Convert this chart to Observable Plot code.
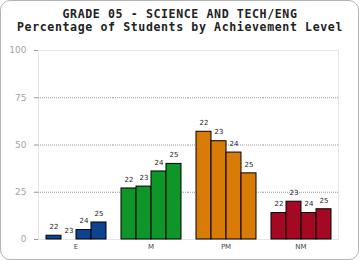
<!DOCTYPE html>
<html>
<head>
<meta charset="utf-8">
<script src="https://cdn.jsdelivr.net/npm/d3@7"></script>
<script src="https://cdn.jsdelivr.net/npm/@observablehq/plot@0.6"></script>
<style>
  html, body { margin: 0; padding: 0; background: #fff; }
  #wrap { position: relative; width: 360px; height: 260px; overflow: hidden; }
  #box { position: absolute; left: 0; top: 0; width: 359px; height: 260px; box-sizing: border-box;
         border: 1px solid #b4b4b4; border-radius: 10px; pointer-events: none; }
  .title { position: absolute; left: 0; width: 360px; height: 12px; text-align: center;
           font: bold 11.6px "DejaVu Sans Mono", monospace; letter-spacing: 0.6px; line-height: 12px; color: #222; white-space: nowrap; }
  #t1 { top: 8px; }
  #t2 { top: 21px; }
  #chart { position: absolute; left: 0; top: 0; }
</style>
</head>
<body>
<div id="wrap">
  <div id="chart"></div>
  <div class="title" id="t1">GRADE 05 - SCIENCE AND TECH/ENG</div>
  <div class="title" id="t2">Percentage of Students by Achievement Level</div>
  <div id="box"></div>
</div>
<script>
const levels = ["E", "M", "PM", "NM"];
const years = ["22", "23", "24", "25"];
const valuesE = [2, 0, 5, 9];
const valuesM = [27, 28, 36, 40];
const valuesPM = [57, 52, 46, 35];
const valuesNM = [14, 20, 14, 16];
const levelColors = ["#0c4392", "#0e9629", "#d87b07", "#a40822"];
const yTicks = [0, 25, 50, 75, 100];
const gridValues = [25, 50, 75];

const series = [valuesE, valuesM, valuesPM, valuesNM];
const rows = [];
levels.forEach((lv, i) => years.forEach((yr, j) => rows.push({level: lv, year: yr, value: series[i][j]})));

const plot = Plot.plot({
  width: 360,
  height: 260,
  marginTop: 50,
  marginBottom: 21,
  marginLeft: 37,
  marginRight: 22,
  style: {background: "transparent", fontFamily: "DejaVu Sans", color: "#222"},
  fx: {domain: levels, padding: 0, label: null},
  x: {domain: years, paddingInner: 0, paddingOuter: 0.5, axis: null},
  y: {domain: [0, 100], label: null},
  color: {domain: levels, range: levelColors},
  marks: [
    Plot.frame({stroke: "#e6e6e6", facet: "super"}),
    Plot.ruleY(gridValues, {stroke: "#9a9a9a", strokeDasharray: "1,1"}),
    Plot.axisY({ticks: yTicks, tickSize: 4, tickPadding: 8, stroke: "#999", fill: "#a3a3a3", fontSize: 9, label: null}),
    Plot.axisFx({tickSize: 0, tickPadding: 5, fontSize: 7, fill: "#444", label: null, anchor: "bottom"}),
    Plot.barY(rows, {fx: "level", x: "year", y: "value", fill: "level", stroke: "#000", strokeWidth: 1}),
    Plot.text(rows, {fx: "level", x: "year", y: "value", text: "year", dy: -9, fontSize: 7, fill: "#222"})
  ]
});
document.getElementById("chart").appendChild(plot);
</script>
</body>
</html>
